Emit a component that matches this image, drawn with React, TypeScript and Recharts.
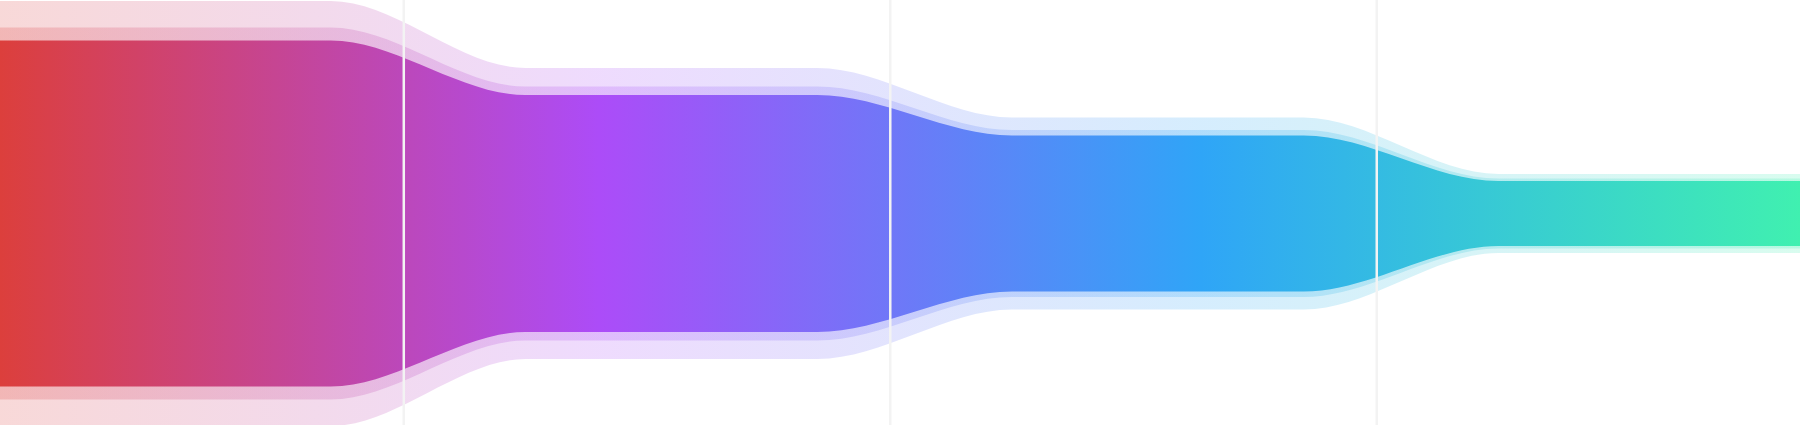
import React from 'react';
import { AreaChart, Area, XAxis, YAxis, ReferenceLine } from 'recharts';

// funnel stages, thickness of each layer (px-like units)
const stages = ['Stage 1', 'Stage 2', 'Stage 3', 'Stage 4'];
const mainValues = [346, 237, 156, 65];
const middleValues = [372, 254, 167, 70];
const outerValues = [425, 291, 192, 79];

const gradientStops = [
  { offset: '0%', color: '#dc3f3c' },
  { offset: '33.3%', color: '#ac4cf8' },
  { offset: '66.7%', color: '#2fa5f7' },
  { offset: '100%', color: '#40f0b0' },
];

const W = 1800;
const H = 425;
// stage i spans [i, i+1] on the x axis, separators sit at the boundaries
const X_MIN = 0.17;
const X_MAX = 3.87;
const FLAT_START = 0.25;
const FLAT_END = 0.85;

const range = (v: number) => [-v / 2, v / 2];

const chartData = stages.flatMap((_, i) => {
  const row = {
    outer: range(outerValues[i]),
    middle: range(middleValues[i]),
    main: range(mainValues[i]),
  };
  const start = i === 0 ? X_MIN : i + FLAT_START;
  const end = i === stages.length - 1 ? X_MAX : i + FLAT_END;
  return [{ x: start, ...row }, { x: end, ...row }];
});

const separators = stages.slice(1).map((_, i) => i + 1);

const layers = [
  { key: 'outer', opacity: 0.2 },
  { key: 'middle', opacity: 0.22 },
  { key: 'main', opacity: 1 },
];

export default function App() {
  return (
    <div style={{ position: 'absolute', left: 0, top: 0, width: W, height: H, background: '#fff' }}>
      <AreaChart width={W} height={H} data={chartData} margin={{ top: 0, right: 0, bottom: 0, left: 0 }}>
        <defs>
          <linearGradient id="funnelGrad" x1="0" y1="0" x2={W} y2="0" gradientUnits="userSpaceOnUse">
            {gradientStops.map((s) => (
              <stop key={s.offset} offset={s.offset} stopColor={s.color} />
            ))}
          </linearGradient>
        </defs>
        <XAxis type="number" dataKey="x" domain={[X_MIN, X_MAX]} allowDataOverflow hide />
        <YAxis type="number" domain={[-211.5, 213.5]} allowDataOverflow hide />
        {layers.map((l) => (
          <Area
            key={l.key}
            type="monotone"
            dataKey={l.key}
            stroke="none"
            fill="url(#funnelGrad)"
            fillOpacity={l.opacity}
            dot={false}
            activeDot={false}
            isAnimationActive={false}
          />
        ))}
        {separators.map((x) => (
          <ReferenceLine key={x} x={x} stroke="#f3f3f3" strokeWidth={2.5} ifOverflow="visible" />
        ))}
      </AreaChart>
    </div>
  );
}
